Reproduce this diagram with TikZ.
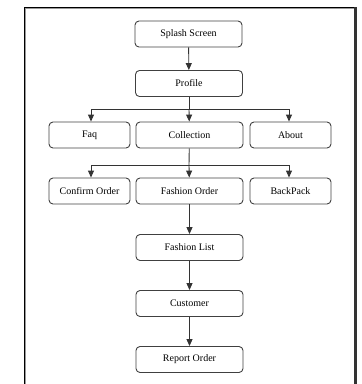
\documentclass[tikz,border=0pt]{standalone}
\usepackage{fontspec}
\setmainfont{Liberation Serif}
\usetikzlibrary{arrows.meta}
\begin{document}
\begin{tikzpicture}[x=1pt,y=-1pt,
  box/.style={draw=black!75,line width=0.9pt,rounded corners=4pt,minimum height=26pt,inner sep=0pt,font=\fontsize{10}{12}\selectfont},
  wide/.style={box,minimum width=107pt},
  narrow/.style={box,minimum width=81pt},
  arr/.style={line width=0.9pt,black!80,-{Triangle[width=6pt,length=7pt]}},
  ln/.style={line width=0.9pt,black!80}]
\useasboundingbox (0,0) rectangle (362,384);
% frame
\draw[line width=1pt,black] (24.5,400) -- (24.5,7.5) -- (355,7.5);
\draw[line width=0.8pt,black!40] (25.8,400) -- (25.8,8.8) -- (354,8.8);
\draw[line width=3pt,black!80] (355.5,7) -- (355.5,400);
% nodes
\node[wide] (splash) at (188.5,34) {Splash Screen};
\node[wide] (profile) at (189,83.5) {Profile};
\node[narrow] (faq) at (89.5,135) {Faq};
\node[wide] (coll) at (189.5,135) {Collection};
\node[narrow] (about) at (290.5,135) {About};
\node[narrow] (confirm) at (89.5,191) {Confirm Order};
\node[wide] (fashion) at (189.5,191) {Fashion Order};
\node[narrow] (back) at (290.5,191) {BackPack};
\node[wide] (flist) at (189.5,247.5) {Fashion List};
\node[wide] (cust) at (189.5,303.5) {Customer};
\node[wide] (report) at (189.5,359.5) {Report Order};
% junctions
\coordinate (j1) at (189,109);
\coordinate (j2) at (189,165);
\draw[arr] (splash) -- (profile);
\draw[ln] (profile) -- (j1);
\draw[arr] (j1) -- (coll);
\draw[arr] (j1) -| (faq.north -| 91,0);
\draw[arr] (j1) -| (about.north -| 289,0);
\draw[ln] (coll) -- (j2);
\draw[arr] (j2) -- (fashion);
\draw[arr] (j2) -| (confirm.north -| 91,0);
\draw[arr] (j2) -| (back.north -| 289,0);
\draw[arr] (fashion) -- (flist);
\draw[arr] (flist) -- (cust);
\draw[arr] (cust) -- (report);
\end{tikzpicture}
\end{document}
